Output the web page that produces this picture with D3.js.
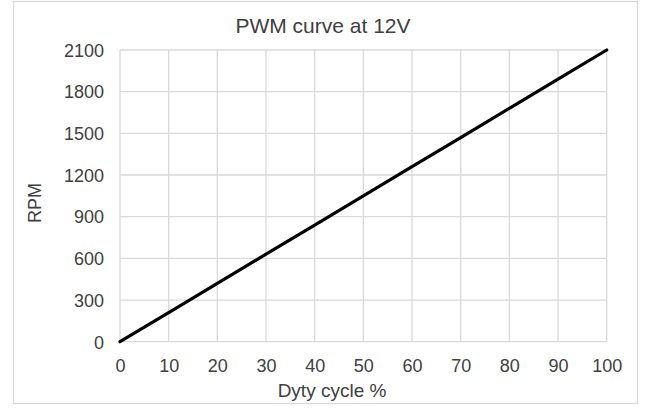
<!DOCTYPE html>
<html><head><meta charset="utf-8">
<script src="https://cdn.jsdelivr.net/npm/d3@7"></script>
<style>html,body{margin:0;padding:0;background:#fff;}svg{display:block;font-family:"Liberation Sans",Arial,sans-serif;}</style>
</head><body><div id="chart"></div>
<script>
const dutyCycle = [0, 10, 20, 30, 40, 50, 60, 70, 80, 90, 100];
const rpm = [0, 210, 420, 630, 840, 1050, 1260, 1470, 1680, 1890, 2100];
const xTicks = [0, 10, 20, 30, 40, 50, 60, 70, 80, 90, 100];
const yTicks = [0, 300, 600, 900, 1200, 1500, 1800, 2100];
const title = "PWM curve at 12V";
const xTitle = "Dyty cycle %";
const yTitle = "RPM";

const W = 646, H = 409;
const svg = d3.select("#chart").append("svg").attr("width", W).attr("height", H);
const plot = {left: 120, right: 606.7, top: 50, bottom: 341.7};
const x = d3.scaleLinear().domain([0, 100]).range([plot.left, plot.right]);
const y = d3.scaleLinear().domain([0, 2100]).range([plot.bottom, plot.top]);
const textColor = "#404040", gridColor = "#d9d9d9";

svg.append("rect").attr("x", 13.5).attr("y", 1.5).attr("width", 624).attr("height", 402)
  .attr("fill", "#fff").attr("stroke", gridColor).attr("stroke-width", 1.3);

// gridlines
svg.append("g").selectAll("line").data(xTicks).join("line")
  .attr("x1", d => x(d)).attr("x2", d => x(d)).attr("y1", plot.top).attr("y2", plot.bottom)
  .attr("stroke", gridColor).attr("stroke-width", 1.3);
svg.append("g").selectAll("line").data(yTicks).join("line")
  .attr("x1", plot.left).attr("x2", plot.right).attr("y1", d => y(d)).attr("y2", d => y(d))
  .attr("stroke", gridColor).attr("stroke-width", 1.3);

// axes (labels only)
const xAxis = svg.append("g").attr("transform", `translate(0,${plot.bottom})`)
  .call(d3.axisBottom(x).tickValues(xTicks).tickFormat(d3.format("d")).tickSize(0).tickPadding(0));
xAxis.select(".domain").remove();
xAxis.selectAll("text").attr("y", 30).attr("dy", 0).attr("fill", textColor)
  .style("font-size", "18px").style("font-family", "'Liberation Sans',Arial,sans-serif");

const yAxis = svg.append("g").attr("transform", `translate(${plot.left},0)`)
  .call(d3.axisLeft(y).tickValues(yTicks).tickFormat(d3.format("d")).tickSize(0).tickPadding(16));
yAxis.select(".domain").remove();
yAxis.selectAll("text").attr("fill", textColor).attr("dy", "0.35em")
  .style("font-size", "18px").style("font-family", "'Liberation Sans',Arial,sans-serif");

// line
const data = dutyCycle.map((d, i) => ({x: d, y: rpm[i]}));
svg.append("path").datum(data)
  .attr("d", d3.line().x(d => x(d.x)).y(d => y(d.y)))
  .attr("fill", "none").attr("stroke", "#000").attr("stroke-width", 3.2)
  .attr("stroke-linecap", "round");

// titles
svg.append("text").attr("x", 323).attr("y", 33).attr("text-anchor", "middle")
  .attr("fill", textColor).style("font-size", "21px").text(title);
svg.append("text").attr("x", 332).attr("y", 397).attr("text-anchor", "middle")
  .attr("fill", textColor).style("font-size", "19px").text(xTitle);
svg.append("text").attr("transform", "translate(41,203) rotate(-90)").attr("text-anchor", "middle")
  .attr("fill", textColor).style("font-size", "18px").text(yTitle);
</script></body></html>
